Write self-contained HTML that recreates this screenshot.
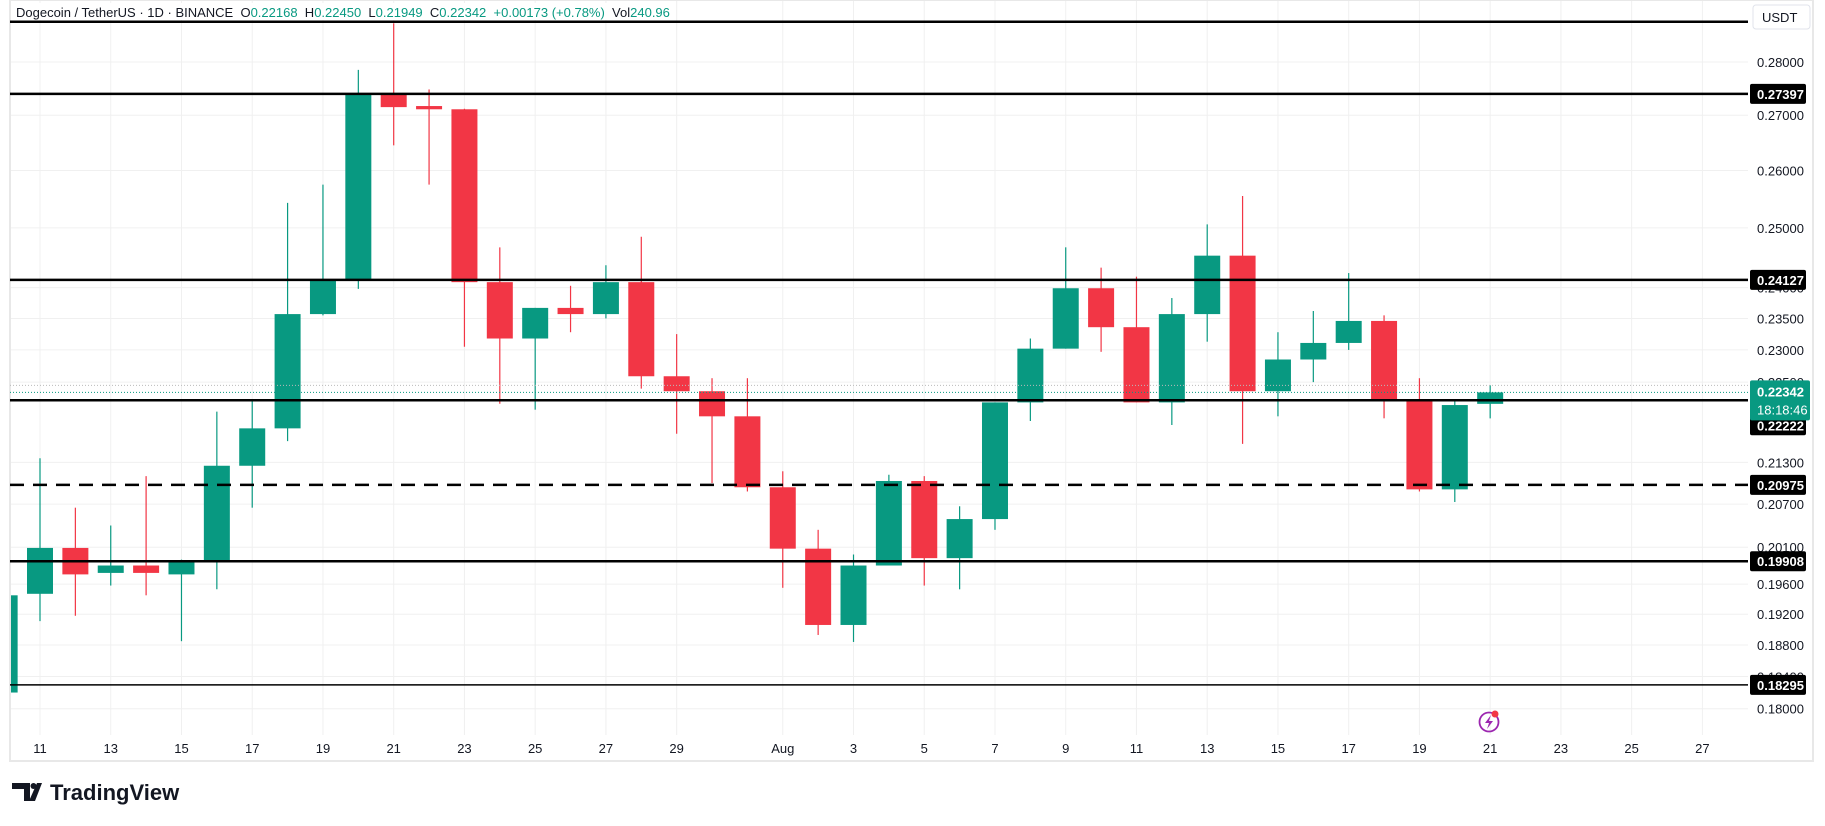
<!DOCTYPE html>
<html><head><meta charset="utf-8"><style>
body{margin:0;background:#fff;font-family:"Liberation Sans",sans-serif;}
svg text{font-family:"Liberation Sans",sans-serif;}
</style></head><body>
<svg id="c" width="1825" height="821" xmlns="http://www.w3.org/2000/svg"><defs><clipPath id="plot"><rect x="10" y="0" width="1738" height="761"/></clipPath></defs><g id="cg" clip-path="url(#plot)"></g></svg>
<script>
const dates=["10","11","12","13","14","15","16","17","18","19","20","21","22","23","24","25","26","27","28","29","30","31","1","2","3","4","5","6","7","8","9","10","11","12","13","14","15","16","17","18","19","20","21"];
const opens=[0.1820,0.1947,0.2009,0.1975,0.1985,0.1973,0.1991,0.2125,0.2180,0.2357,0.2413,0.2740,0.2717,0.2711,0.2409,0.2318,0.2367,0.2357,0.2409,0.2259,0.2236,0.2198,0.2094,0.2008,0.1906,0.1985,0.2103,0.1995,0.2049,0.2219,0.2302,0.2399,0.2336,0.2219,0.2357,0.2453,0.2236,0.2285,0.2311,0.2346,0.2222,0.2091,0.22168];
const highs=[0.1945,0.2136,0.2065,0.2040,0.2110,0.1993,0.2205,0.2222,0.2543,0.2575,0.2785,0.2875,0.2748,0.2712,0.2467,0.2367,0.2403,0.2437,0.2485,0.2325,0.2256,0.2256,0.2117,0.2034,0.2000,0.2112,0.2110,0.2067,0.2219,0.2318,0.2467,0.2433,0.2418,0.2383,0.2506,0.2555,0.2328,0.2362,0.2424,0.2355,0.2256,0.2222,0.22450];
const lows=[0.1804,0.1911,0.1918,0.1958,0.1945,0.1885,0.1953,0.2065,0.2161,0.2355,0.2398,0.2645,0.2575,0.2305,0.2217,0.2208,0.2328,0.2350,0.2240,0.2172,0.2100,0.2088,0.1955,0.1893,0.1884,0.1985,0.1958,0.1953,0.2034,0.2191,0.2302,0.2297,0.2219,0.2185,0.2313,0.2157,0.2198,0.2250,0.2300,0.2195,0.2088,0.2073,0.21949];
const closes=[0.1945,0.2009,0.1973,0.1985,0.1975,0.1991,0.2125,0.2180,0.2357,0.2413,0.2740,0.2715,0.2711,0.2409,0.2318,0.2367,0.2357,0.2409,0.2259,0.2236,0.2198,0.2094,0.2008,0.1906,0.1985,0.2103,0.1995,0.2049,0.2219,0.2302,0.2399,0.2336,0.2219,0.2357,0.2453,0.2236,0.2285,0.2311,0.2346,0.2222,0.2091,0.2215,0.22342];
const tickPrices=[0.28,0.27,0.26,0.25,0.24,0.235,0.23,0.225,0.213,0.207,0.201,0.196,0.192,0.188,0.184,0.18];
const tickLabels=["0.28000","0.27000","0.26000","0.25000","0.24000","0.23500","0.23000","0.22500","0.21300","0.20700","0.20100","0.19600","0.19200","0.18800","0.18400","0.18000"];
const levels=[0.27397,0.24127,0.22222,0.20975,0.19908,0.18295];
const levelLabels=["0.27397","0.24127","0.22222","0.20975","0.19908","0.18295"];
const xLabels=["11","13","15","17","19","21","23","25","27","29","Aug","3","5","7","9","11","13","15","17","19","21","23","25","27"];
const xLabelIdx=[1,3,5,7,9,11,13,15,17,19,22,24,26,28,30,32,34,36,38,40,42,44,46,48];
const topLinePrice=0.2878;

const svg=document.getElementById('c');const cg=document.getElementById('cg');const NS='http://www.w3.org/2000/svg';
const Y=p=>62+(Math.log(0.28)-Math.log(p))*1463.7;
const X=i=>40+(i-1)*35.37;
function el(t,a,par){const e=document.createElementNS(NS,t);for(const k in a)e.setAttribute(k,a[k]);(par||svg).appendChild(e);return e;}
const AX=1748;
tickPrices.forEach((p,i)=>{const g=el('line',{x1:10,x2:AX,y1:Y(p),y2:Y(p),stroke:'#f0f0f0'},cg);


const t=el('text',{x:1757,y:Y(p)+5,'font-size':13,fill:'#131722'});t.textContent=tickLabels[i];

});
xLabelIdx.forEach((d,i)=>{const g=el('line',{x1:X(d),x2:X(d),y1:0,y2:735,stroke:'#f0f0f0'},cg);


const t=el('text',{x:X(d),y:753,'font-size':13,fill:'#131722','text-anchor':'middle'});t.textContent=xLabels[i];

});
el('rect',{x:10,y:0,width:1803,height:761,fill:'none',stroke:'#e8e8e8','stroke-width':2});
el('line',{x1:10,x2:AX,y1:Y(topLinePrice),y2:Y(topLinePrice),stroke:'#000','stroke-width':2.5});
el('line',{x1:10,x2:AX,y1:Y(0.22342),y2:Y(0.22342),stroke:'#089981','stroke-dasharray':'1 2'});
el('line',{x1:10,x2:AX,y1:Y(0.2245),y2:Y(0.2245),stroke:'#bbb','stroke-dasharray':'1 2'});
closes.forEach((c,i)=>{const o=opens[i],up=c>=o,col=up?'#089981':'#F23645',x=X(i);
const w=el('line',{x1:x,x2:x,y1:Y(highs[i]),y2:Y(lows[i]),stroke:col,'stroke-width':1.2},cg);


const top=Y(Math.max(o,c)),bot=Y(Math.min(o,c));
const b=el('rect',{x:x-13,y:top,width:26,height:Math.max(1.5,bot-top),fill:col},cg);

});
levels.forEach((p,i)=>{const y=Y(p);const dashed=levelLabels[i]==="0.20975";
const l=el('line',{x1:10,x2:AX,y1:y,y2:y,stroke:'#000','stroke-width':i==5?1.5:2.5});
if(dashed)l.setAttribute('stroke-dasharray','14 9');


let ly=y;if(levelLabels[i]==="0.22222")ly=y+25;
el('rect',{x:1750,y:ly-10,width:56,height:20,fill:'#000',rx:2});
const t=el('text',{x:1757,y:ly+5,'font-size':13,'font-weight':'bold',fill:'#fff'});t.textContent=levelLabels[i];

});
el('rect',{x:1750,y:Y(0.22342)-12,width:60,height:40,fill:'#089981',rx:2});
let t=el('text',{x:1757,y:Y(0.22342)+4,'font-size':13,'font-weight':'bold',fill:'#fff'});t.textContent="0.22342";


t=el('text',{x:1757,y:Y(0.22342)+22,'font-size':13,fill:'#fff'});t.textContent="18:18:46";


el('rect',{x:1753,y:5,width:57,height:24,fill:'#fff',stroke:'#e0e3eb',rx:3});
t=el('text',{x:1762,y:22,'font-size':13,fill:'#131722'});t.textContent="USDT";


el('rect',{x:12,y:3,width:610,height:17,fill:'#fff'});
t=el('text',{x:16,y:17,'font-size':13,fill:'#131722'});
t.innerHTML='Dogecoin / TetherUS · 1D · BINANCE  O<tspan fill="#089981">0.22168</tspan>  H<tspan fill="#089981">0.22450</tspan>  L<tspan fill="#089981">0.21949</tspan>  C<tspan fill="#089981">0.22342  +0.00173 (+0.78%)</tspan>  Vol<tspan fill="#089981">240.96</tspan>';
t.setAttribute('xml:space','preserve');t.style.whiteSpace='pre';


el('circle',{cx:1489,cy:722,r:9.5,fill:'none',stroke:'#9c27b0','stroke-width':1.8});
el('path',{d:'M1491 715 L1485 723 L1489 723 L1487 729 L1493 721 L1489 721 Z',fill:'#9c27b0'});
el('circle',{cx:1495,cy:714,r:3.5,fill:'#F23645'});
el('path',{d:'M12 783 H30 V801 H24 V789 H12 Z',fill:'#131722'});
el('circle',{cx:33.5,cy:786,r:3,fill:'#131722'});
el('path',{d:'M37 783 H42 L35 801 H29 Z',fill:'#131722'});
t=el('text',{x:50,y:800,'font-size':22,'font-weight':'bold',fill:'#131722'});t.textContent="TradingView";


</script>
</body></html>
